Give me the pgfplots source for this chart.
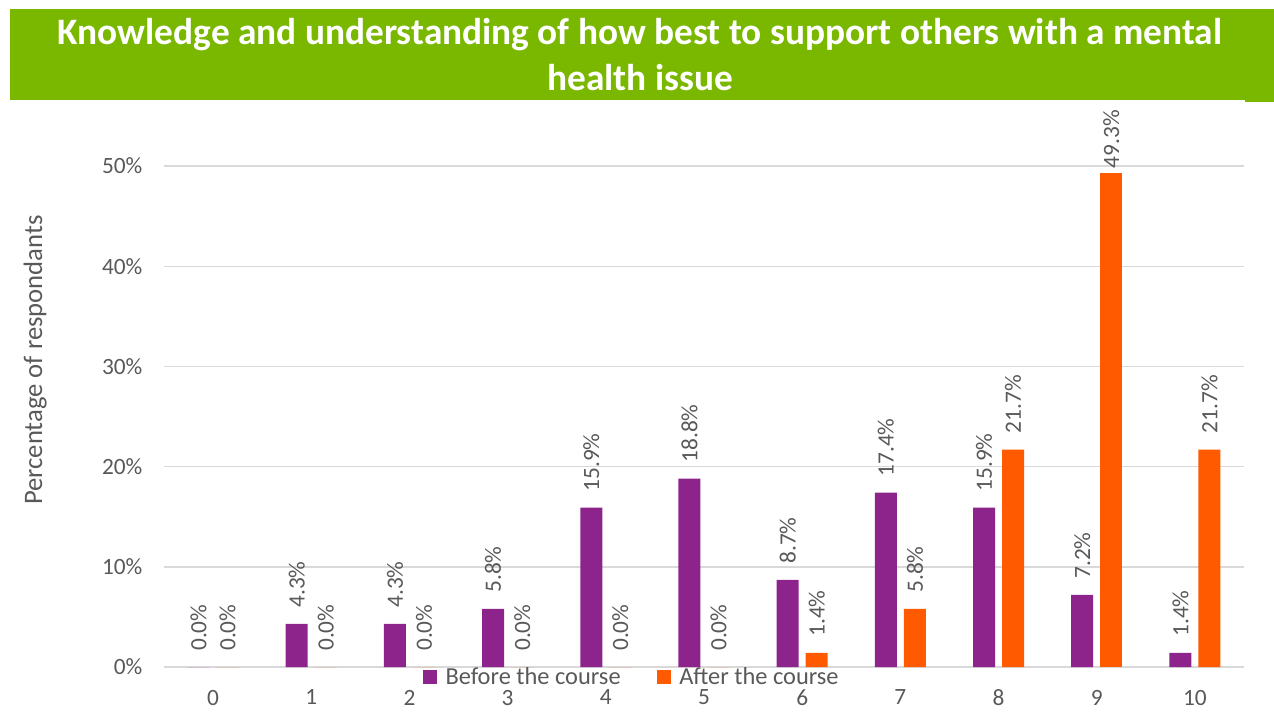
\documentclass[border=0pt]{standalone}
\usepackage{pgfplots}
\pgfplotsset{compat=1.18}
\usepackage{fontspec}
\setmainfont{Carlito}
\definecolor{banner}{HTML}{7AB800}
\definecolor{before}{HTML}{8C248C}
\definecolor{after}{HTML}{FF5A00}
\definecolor{txt}{HTML}{595959}
\definecolor{grd}{HTML}{D9D9D9}
% the 49.3% bar (score 9, after) is drawn as a separate plot so that its label can sit closer to the bar
\pgfplotstableread{
x before after
0 0.0 0.0
1 4.3 0.0
2 4.3 0.0
3 5.8 0.0
4 15.9 0.0
5 18.8 0.0
6 8.7 1.4
7 17.4 5.8
8 15.9 21.7
9 7.2 nan
10 1.4 21.7
}\datatable
\pgfplotstableread{
x after
9 49.3
}\peaktable
\begin{document}
\begin{tikzpicture}
\path[use as bounding box] (0,0) rectangle (955.5pt,533.25pt);
\fill[banner] (7.5pt,458.25pt) rectangle (955.5pt,526.5pt);
\fill[banner] (933.75pt,456.75pt) rectangle (955.5pt,459pt);
\node[text=white, font=\fontsize{28}{34.5}\selectfont\bfseries, align=center, inner sep=0pt] at (480pt,492pt)
  {Knowledge and understanding of how best to support others with a mental\\health issue};
\begin{axis}[
  at={(123pt,33pt)}, anchor=south west,
  scale only axis, width=810pt, height=413.25pt,
  xmin=-0.5, xmax=10.5, ymin=0, ymax=55,
  clip=false,
  axis line style={draw=none},
  major tick length=0pt,
  xtick={0,...,10},
  ytick={0,10,20,30,40,50},
  yticklabels={0\%,10\%,20\%,30\%,40\%,50\%},
  ymajorgrids, grid style={grd, line width=1.1pt},
  /pgf/number format/assume math mode=true,
  tick label style={text=txt, font=\fontsize{17.5}{20}\selectfont},
  yticklabel style={inner sep=0pt, xshift=-16pt},
  xticklabel style={inner sep=0pt, yshift=-17pt},
  every axis y label/.style={at={(axis description cs:-0.1194,0.557)}, rotate=90, anchor=center},
  ylabel={Percentage of respondants},
  ylabel style={text=txt, font=\fontsize{20}{24}\selectfont},
  ybar, bar width=16.5pt,
  nodes near coords={\pgfmathprintnumber[fixed,fixed zerofill,precision=1]{\pgfplotspointmeta}\%},
  every node near coord/.append style={rotate=90, anchor=west, inner xsep=12pt, inner ysep=0pt, text=txt, font=\fontsize{17.5}{21}\selectfont},
  legend columns=2,
  legend style={at={(axis description cs:0.4334,-0.019)}, anchor=center, draw=none, fill=none,
    font=\fontsize{18.3}{21}\selectfont, text=txt, inner sep=0pt,
    /tikz/every odd column/.append style={column sep=4.5pt},
    /tikz/every even column/.append style={column sep=25pt}},
  legend image code/.code={\fill[#1] (0pt,-5.25pt) rectangle (10.5pt,5.25pt);},
]
\addplot[fill=before, draw=none, bar shift=-10.9pt] table[x=x, y=before] {\datatable};
\addplot[fill=after, draw=none, bar shift=10.9pt] table[x=x, y=after] {\datatable};
\addplot[fill=after, draw=none, bar shift=10.9pt, forget plot,
  every node near coord/.append style={inner xsep=3.5pt}] table[x=x, y=after] {\peaktable};
\legend{Before the course, After the course}
\end{axis}
\end{tikzpicture}
\end{document}
